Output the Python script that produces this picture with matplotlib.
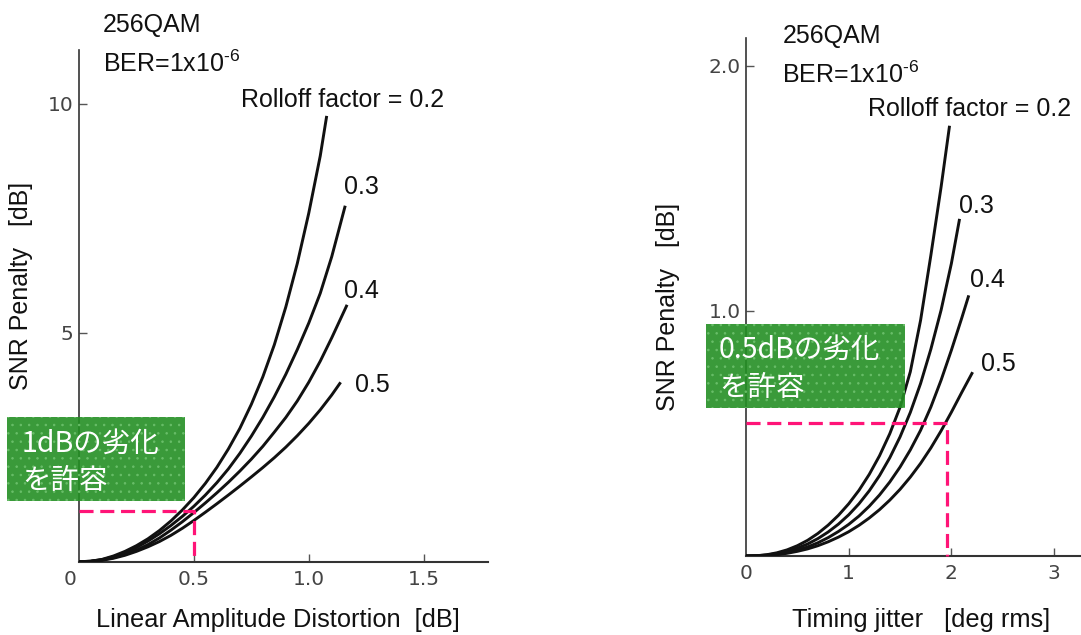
import matplotlib
matplotlib.use("Agg")
import matplotlib.pyplot as plt
from matplotlib.patches import Rectangle

plt.rcParams['mathtext.fontset'] = 'custom'
plt.rcParams['mathtext.rm'] = 'Liberation Sans'
plt.rcParams['mathtext.it'] = 'Liberation Sans:italic'
plt.rcParams['mathtext.bf'] = 'Liberation Sans:bold'
plt.rcParams['hatch.linewidth'] = 0.6

# ---------------- data ----------------
rolloffs = ["0.2", "0.3", "0.4", "0.5"]

# Left: Linear amplitude distortion [dB] vs SNR penalty [dB]
amp_x_02 = [0.0, 0.05, 0.10, 0.15, 0.20, 0.25, 0.30, 0.35, 0.40, 0.45, 0.50, 0.55,
            0.60, 0.65, 0.70, 0.75, 0.80, 0.85, 0.90, 0.95, 1.00, 1.05, 1.077]
amp_y_02 = [0.0, 0.01, 0.05, 0.125, 0.225, 0.35, 0.50, 0.68, 0.89, 1.13, 1.40, 1.71,
            2.06, 2.46, 2.91, 3.435, 4.035, 4.735, 5.56, 6.51, 7.61, 8.86, 9.70]
amp_x_03 = [0.0, 0.05, 0.10, 0.15, 0.20, 0.25, 0.30, 0.35, 0.40, 0.45, 0.50, 0.55,
            0.60, 0.65, 0.70, 0.75, 0.80, 0.85, 0.90, 0.95, 1.00, 1.05, 1.10, 1.157]
amp_y_03 = [0.0, 0.01, 0.045, 0.105, 0.19, 0.31, 0.45, 0.61, 0.79, 0.99, 1.21, 1.455,
            1.725, 2.025, 2.365, 2.74, 3.15, 3.60, 4.09, 4.63, 5.21, 5.86, 6.66, 7.74]
amp_x_04 = [0.0, 0.05, 0.10, 0.15, 0.20, 0.25, 0.30, 0.35, 0.40, 0.45, 0.50, 0.55,
            0.60, 0.65, 0.70, 0.75, 0.80, 0.85, 0.90, 0.95, 1.00, 1.05, 1.10, 1.164]
amp_y_04 = [0.0, 0.008, 0.038, 0.088, 0.158, 0.253, 0.373, 0.518, 0.688, 0.873, 1.073, 1.283,
            1.503, 1.733, 1.978, 2.238, 2.518, 2.828, 3.148, 3.508, 3.918, 4.378, 4.888, 5.579]
amp_x_05 = [0.0, 0.05, 0.10, 0.15, 0.20, 0.25, 0.30, 0.35, 0.40, 0.45, 0.50, 0.55,
            0.60, 0.65, 0.70, 0.75, 0.80, 0.85, 0.90, 0.95, 1.00, 1.05, 1.10, 1.135]
amp_y_05 = [0.0, 0.005, 0.03, 0.075, 0.14, 0.225, 0.325, 0.44, 0.575, 0.73, 0.90, 1.08,
            1.265, 1.455, 1.65, 1.85, 2.055, 2.27, 2.50, 2.75, 3.02, 3.315, 3.64, 3.89]

# Right: Timing jitter [deg rms] vs SNR penalty [dB]
jit_x_02 = [0.0, 0.1, 0.2, 0.3, 0.4, 0.5, 0.6, 0.7, 0.8, 0.9, 1.0, 1.1,
            1.2, 1.3, 1.4, 1.5, 1.6, 1.7, 1.8, 1.9, 1.98]
jit_y_02 = [0.0, 0.001, 0.005, 0.013, 0.025, 0.042, 0.064, 0.092, 0.126, 0.166, 0.213, 0.268,
            0.333, 0.409, 0.499, 0.607, 0.752, 0.962, 1.227, 1.507, 1.75]
jit_x_03 = [0.0, 0.1, 0.2, 0.3, 0.4, 0.5, 0.6, 0.7, 0.8, 0.9, 1.0, 1.1,
            1.2, 1.3, 1.4, 1.5, 1.6, 1.7, 1.8, 1.9, 2.0, 2.077]
jit_y_03 = [0.0, 0.001, 0.004, 0.010, 0.019, 0.032, 0.049, 0.071, 0.098, 0.130, 0.168, 0.213,
            0.266, 0.328, 0.401, 0.486, 0.586, 0.704, 0.844, 1.004, 1.194, 1.37]
jit_x_04 = [0.0, 0.1, 0.2, 0.3, 0.4, 0.5, 0.6, 0.7, 0.8, 0.9, 1.0, 1.1,
            1.2, 1.3, 1.4, 1.5, 1.6, 1.7, 1.8, 1.9, 2.0, 2.1, 2.165]
jit_y_04 = [0.0, 0.0006, 0.003, 0.007, 0.014, 0.024, 0.037, 0.054, 0.075, 0.100, 0.129, 0.163,
            0.203, 0.249, 0.302, 0.363, 0.433, 0.513, 0.608, 0.718, 0.84, 0.97, 1.058]
jit_x_05 = [0.0, 0.1, 0.2, 0.3, 0.4, 0.5, 0.6, 0.7, 0.8, 0.9, 1.0, 1.1,
            1.2, 1.3, 1.4, 1.5, 1.6, 1.7, 1.8, 1.9, 2.0, 2.1, 2.2]
jit_y_05 = [0.0, 0.0005, 0.002, 0.0055, 0.011, 0.019, 0.029, 0.042, 0.058, 0.077, 0.099, 0.125,
            0.155, 0.189, 0.228, 0.272, 0.322, 0.378, 0.441, 0.511, 0.587, 0.667, 0.745]

# allowed-degradation guide lines
amp_limit_x = 0.5
amp_limit_y = 1.1
jit_limit_x = 1.96
jit_limit_y = 0.544

amp_xticks = [0.5, 1.0, 1.5]
amp_xticklabels = ["0.5", "1.0", "1.5"]
amp_yticks = [5, 10]
amp_yticklabels = ["5", "10"]
jit_xticks = [0, 1, 2, 3]
jit_xticklabels = ["0", "1", "2", "3"]
jit_yticks = [1.0, 2.0]
jit_yticklabels = ["1.0", "2.0"]

# ---------------- figure ----------------
W, H = 1081, 635
fig = plt.figure(figsize=(W / 100, H / 100), dpi=100)


def fx(px):
    return px / W


def fy(py):
    return 1 - py / H


LAT = 'Liberation Sans'
CJK = ['Noto Sans CJK JP', 'DejaVu Sans']
CURVE_KW = dict(color='#111111', lw=2.1, solid_joinstyle='round', zorder=3)
DASH_KW = dict(color='#ff1477', lw=2.3, dashes=(4.4, 2.1), zorder=4, clip_on=False)
TICK_FS = 14.5


def style_axes(ax):
    for s in ('top', 'right'):
        ax.spines[s].set_visible(False)
    ax.spines['left'].set_color('#333333')
    ax.spines['left'].set_linewidth(1.2)
    ax.spines['bottom'].set_color('#333333')
    ax.spines['bottom'].set_linewidth(1.5)
    ax.tick_params(direction='in', length=6, width=1.0, color='#555555',
                   labelsize=TICK_FS, labelcolor='#444444')
    ax.tick_params(axis='y', pad=4)
    ax.tick_params(axis='x', pad=6)
    for lab in ax.get_xticklabels() + ax.get_yticklabels():
        lab.set_family('DejaVu Sans')


# left panel
ax1 = fig.add_axes([fx(79), fy(561.7), fx(488) - fx(79), fy(50) - fy(561.7)])
ax1.set_xlim(0, 1.78)
ax1.set_ylim(0, 11.17)
for xs, ys in [(amp_x_02, amp_y_02), (amp_x_03, amp_y_03),
               (amp_x_04, amp_y_04), (amp_x_05, amp_y_05)]:
    ax1.plot(xs, ys, **CURVE_KW)
ax1.plot([0, amp_limit_x, amp_limit_x], [amp_limit_y, amp_limit_y, 0], **DASH_KW)
ax1.set_xticks(amp_xticks)
ax1.set_xticklabels(amp_xticklabels)
ax1.set_yticks(amp_yticks)
ax1.set_yticklabels(amp_yticklabels)
style_axes(ax1)
ax1.text(-0.04, -0.016, "0", transform=ax1.get_xaxis_transform(), ha='center', va='top',
         fontsize=TICK_FS, color='#444444', family='DejaVu Sans')

# right panel
ax2 = fig.add_axes([fx(746), fy(556), fx(1081) - fx(746), fy(38) - fy(556)])
ax2.set_xlim(0, 3.262)
ax2.set_ylim(0, 2.114)
for xs, ys in [(jit_x_02, jit_y_02), (jit_x_03, jit_y_03),
               (jit_x_04, jit_y_04), (jit_x_05, jit_y_05)]:
    ax2.plot(xs, ys, **CURVE_KW)
ax2.plot([0, jit_limit_x, jit_limit_x], [jit_limit_y, jit_limit_y, 0], **DASH_KW)
ax2.set_xticks(jit_xticks)
ax2.set_xticklabels(jit_xticklabels)
ax2.set_yticks(jit_yticks)
ax2.set_yticklabels(jit_yticklabels)
style_axes(ax2)
ax2.xaxis.get_major_ticks()[0].tick1line.set_visible(False)


def ftext(x, y, s, **kw):
    d = dict(fontsize=18, family=LAT, color='#111111', va='baseline', ha='left')
    d.update(kw)
    fig.text(fx(x), fy(y), s, **d)


# left annotations
ftext(103, 32.3, "256QAM")
ftext(103, 71.7, r"BER=1x10$^{\text{-6}}$")
ftext(240.7, 106.7, "Rolloff factor = " + rolloffs[0])
ftext(344.3, 194, rolloffs[1])
ftext(344.3, 297.7, rolloffs[2])
ftext(355, 392.3, rolloffs[3])
ftext(21, 286, "SNR Penalty   [dB]", rotation=90, va='center', ha='center')
ftext(278, 620, "Linear Amplitude Distortion  [dB]", va='center', ha='center', fontsize=18.3)

# right annotations
ftext(782.3, 43.3, "256QAM")
ftext(782.3, 83.3, r"BER=1x10$^{\text{-6}}$")
ftext(867.7, 115.7, "Rolloff factor = " + rolloffs[0])
ftext(959.3, 213.3, rolloffs[1])
ftext(970, 286.7, rolloffs[2])
ftext(980.7, 371, rolloffs[3])
ftext(668, 307, "SNR Penalty   [dB]", rotation=90, va='center', ha='center')
ftext(921, 620, "Timing jitter   [deg rms]", va='center', ha='center', fontsize=18.3)

# green boxes
for (x0, y0, x1, y1) in [(7, 416.7, 185, 501), (706, 324, 905, 407.7)]:
    fig.add_artist(Rectangle((fx(x0), fy(y1)), fx(x1) - fx(x0), fy(y0) - fy(y1),
                             transform=fig.transFigure, facecolor=(0.14, 0.56, 0.14),
                             alpha=0.9, edgecolor='#6cc06c', linewidth=0, hatch='..',
                             zorder=5))

ftext(22, 452, "1dBの劣化", family=CJK, color='white', zorder=6, fontsize=20.5)
ftext(22, 489, "を許容", family=CJK, color='white', zorder=6, fontsize=20.5)
ftext(719, 358, "0.5dBの劣化", family=CJK, color='white', zorder=6, fontsize=20.5)
ftext(719, 395.5, "を許容", family=CJK, color='white', zorder=6, fontsize=20.5)

fig.savefig("out.png", dpi=100)
